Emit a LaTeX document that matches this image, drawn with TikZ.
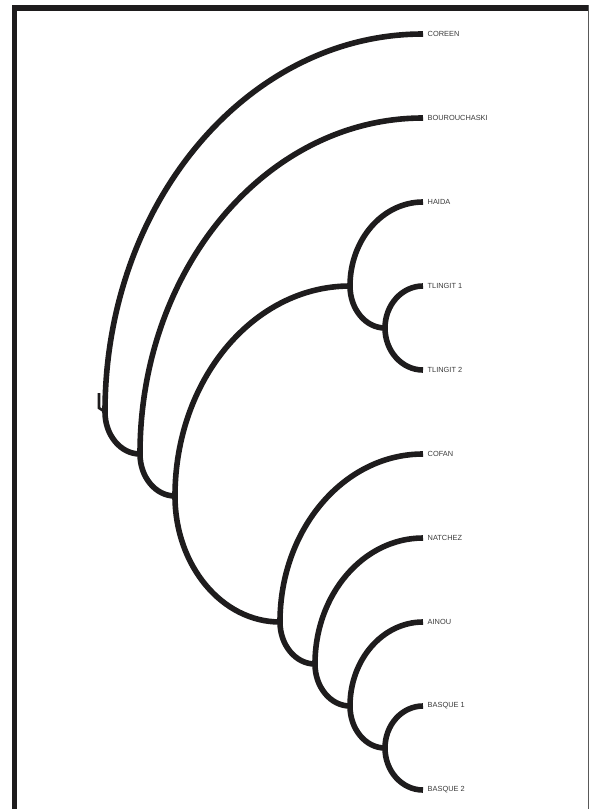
\documentclass[tikz,border=0pt]{standalone}
\usepackage{fontspec}
\setmainfont{Liberation Sans}
\usetikzlibrary{calc}
\definecolor{ink}{HTML}{1E1C1D}
\definecolor{txt}{HTML}{3A3A3A}
\tikzset{
  branch/.style={draw=ink, line width=5.6pt, line cap=butt},
  lab/.style={anchor=west, xshift=4.5pt, inner sep=0pt, text=txt, font=\fontsize{7.4}{9}\selectfont},
  framebar/.style={fill=ink, draw=none}
}
\newcommand{\edgeq}[2]{\draw[branch] (#1) .. controls ($(#1)!0.5523!(#1|-#2)$) and ($(#2)!0.5523!(#1|-#2)$) .. (#2);}
\begin{document}
\begin{tikzpicture}[x=1pt,y=-1pt]
\useasboundingbox (0,0) rectangle (589,809);
% frame
\fill[framebar] (12,5) rectangle (589,10.5);
\fill[framebar] (11.5,5) rectangle (17,809);
\draw[draw=black!65, line width=1.3pt] (588.3,5) -- (588.3,809);
% leaves
\coordinate (lc)  at (423,34);
\coordinate (lb)  at (423,118);
\coordinate (lh)  at (423,202);
\coordinate (lt1) at (423,286);
\coordinate (lt2) at (423,370);
\coordinate (lcf) at (423,454);
\coordinate (ln)  at (423,538);
\coordinate (la)  at (423,622);
\coordinate (lb1) at (423,706);
\coordinate (lb2) at (423,790);
% internal nodes
\coordinate (nt)  at (385,328);
\coordinate (nh)  at (350,286);
\coordinate (nbq) at (385,748);
\coordinate (na)  at (350,706);
\coordinate (nn)  at (315,664);
\coordinate (ncf) at (280,622);
\coordinate (nj)  at (175,496);
\coordinate (nbo) at (140,454);
\coordinate (nr)  at (105,412);
\coordinate (rs)  at (99,393);
\coordinate (rk)  at (99,408);
% labels
\node[lab] (tc)  at (lc)  {COREEN};
\node[lab] (tb)  at (lb)  {BOUROUCHASKI};
\node[lab] (th)  at (lh)  {HAIDA};
\node[lab] (tt1) at (lt1) {TLINGIT 1};
\node[lab] (tt2) at (lt2) {TLINGIT 2};
\node[lab] (tcf) at (lcf) {COFAN};
\node[lab] (tn)  at (ln)  {NATCHEZ};
\node[lab] (ta)  at (la)  {AINOU};
\node[lab] (tb1) at (lb1) {BASQUE 1};
\node[lab] (tb2) at (lb2) {BASQUE 2};
% branches
\edgeq{nr}{lc}
\edgeq{nr}{nbo}
\edgeq{nbo}{lb}
\edgeq{nbo}{nj}
\edgeq{nj}{nh}
\edgeq{nj}{ncf}
\edgeq{nh}{lh}
\edgeq{nh}{nt}
\edgeq{nt}{lt1}
\edgeq{nt}{lt2}
\edgeq{ncf}{lcf}
\edgeq{ncf}{nn}
\edgeq{nn}{ln}
\edgeq{nn}{na}
\edgeq{na}{la}
\edgeq{na}{nbq}
\edgeq{nbq}{lb1}
\edgeq{nbq}{lb2}
% root stub
\draw[draw=ink, line width=2.6pt] (rs) -- (rk) -- (nr);
\end{tikzpicture}
\end{document}
